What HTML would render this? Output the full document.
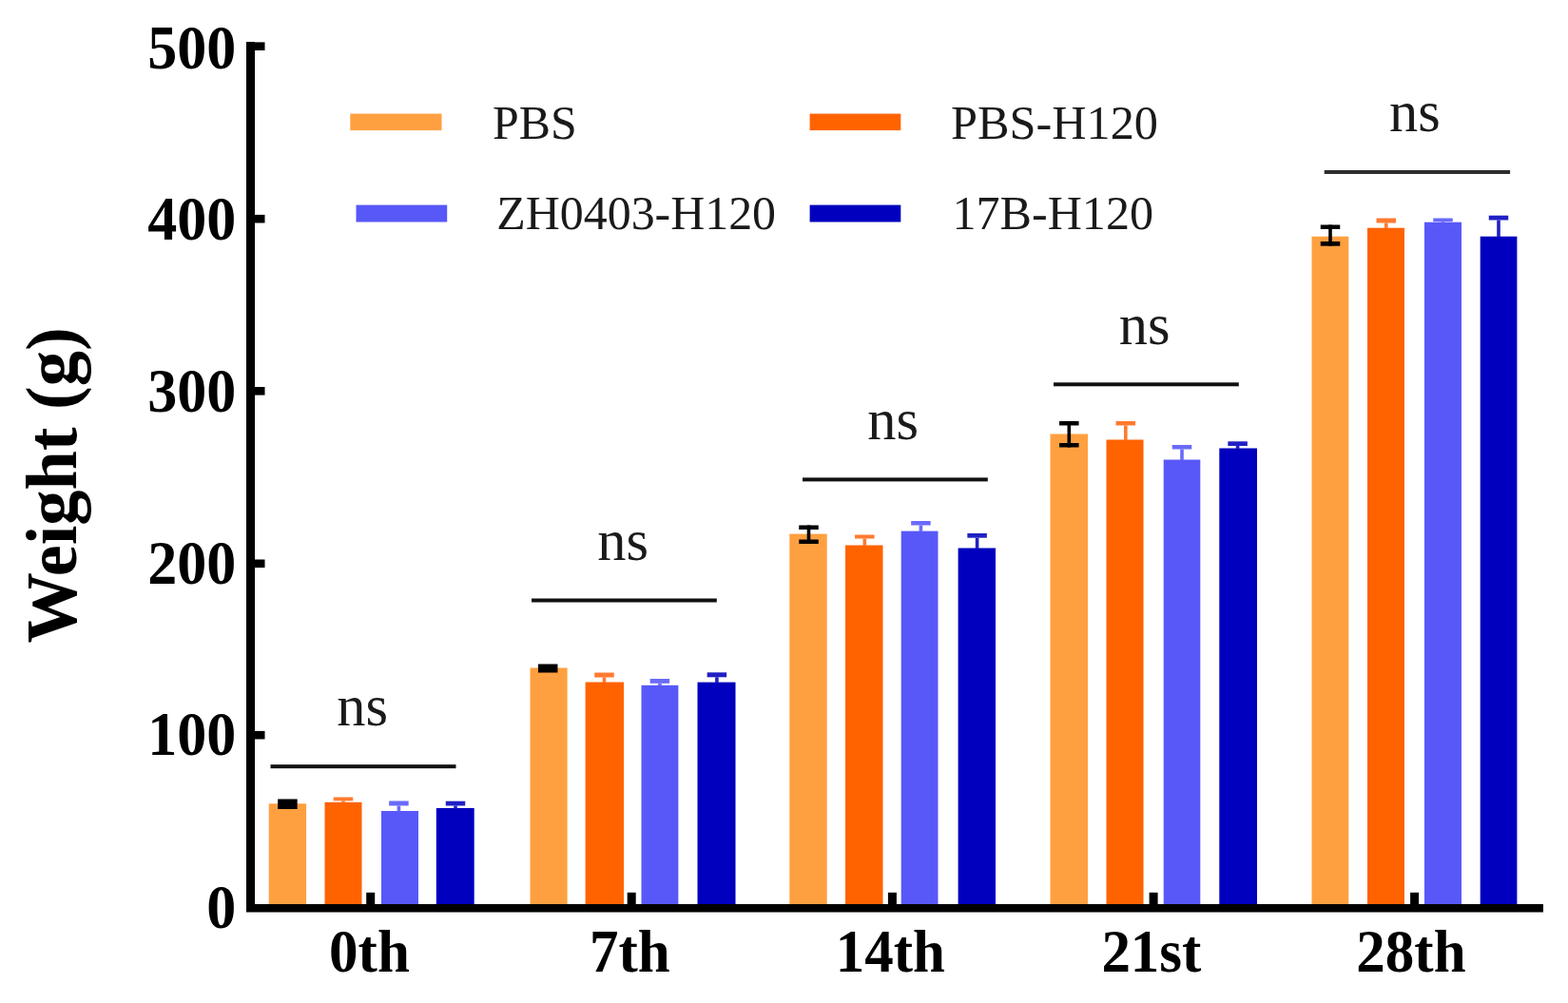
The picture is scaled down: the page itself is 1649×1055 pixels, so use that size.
<!DOCTYPE html>
<html><head><meta charset="utf-8"><title>Weight chart</title>
<style>
html,body{margin:0;padding:0;background:#fff;width:1649px;height:1055px;overflow:hidden}
svg{display:block}
.b{font-family:"Liberation Serif","Times New Roman",serif;font-weight:bold;fill:#000}
.r{font-family:"Liberation Serif","Times New Roman",serif;font-weight:normal;fill:#1a1a1a}
</style></head><body>
<svg width="1649" height="1055" viewBox="0 0 1649 1055">
<rect x="0" y="0" width="1649" height="1055" fill="#fff"/>
<rect x="282.7" y="845.3" width="39.4" height="106.7" fill="#FFA040"/>
<rect x="341.5" y="843.8" width="39.0" height="108.2" fill="#FF6300"/>
<rect x="401.0" y="853.0" width="39.0" height="99.0" fill="#5858F9"/>
<rect x="458.8" y="850.0" width="39.9" height="102.0" fill="#0000BE"/>
<rect x="557.5" y="702.5" width="39.1" height="249.5" fill="#FFA040"/>
<rect x="615.6" y="717.5" width="40.4" height="234.5" fill="#FF6300"/>
<rect x="674.5" y="720.8" width="38.9" height="231.2" fill="#5858F9"/>
<rect x="733.5" y="717.6" width="40.0" height="234.4" fill="#0000BE"/>
<rect x="830.3" y="561.6" width="39.4" height="390.4" fill="#FFA040"/>
<rect x="889.0" y="573.5" width="39.5" height="378.5" fill="#FF6300"/>
<rect x="947.7" y="558.6" width="38.8" height="393.4" fill="#5858F9"/>
<rect x="1007.6" y="576.5" width="39.4" height="375.5" fill="#0000BE"/>
<rect x="1104.5" y="456.5" width="39.5" height="495.5" fill="#FFA040"/>
<rect x="1163.5" y="462.5" width="39.0" height="489.5" fill="#FF6300"/>
<rect x="1223.7" y="483.5" width="38.6" height="468.5" fill="#5858F9"/>
<rect x="1282.3" y="471.5" width="39.7" height="480.5" fill="#0000BE"/>
<rect x="1379.5" y="248.7" width="38.8" height="703.3" fill="#FFA040"/>
<rect x="1438.0" y="239.7" width="39.0" height="712.3" fill="#FF6300"/>
<rect x="1498.0" y="233.7" width="39.0" height="718.3" fill="#5858F9"/>
<rect x="1556.7" y="248.7" width="38.7" height="703.3" fill="#0000BE"/>
<rect x="292.15" y="840.5" width="20.5" height="10.5" fill="#000"/>
<rect x="350.75" y="838.5" width="20.5" height="3.8" fill="#FF7A30"/>
<rect x="359.20" y="842.3" width="3.6" height="2.0" fill="#FF7A30"/>
<rect x="409.15" y="842.5" width="20.5" height="5.0" fill="#6A6AFA"/>
<rect x="417.60" y="847.5" width="3.6" height="6.0" fill="#6A6AFA"/>
<rect x="468.75" y="842.7" width="20.5" height="4.8" fill="#2020C4"/>
<rect x="477.20" y="847.5" width="3.6" height="3.0" fill="#2020C4"/>
<rect x="565.95" y="698.5" width="20.5" height="9.0" fill="#000"/>
<rect x="625.25" y="707.5" width="20.5" height="5.0" fill="#FF7A30"/>
<rect x="633.70" y="712.5" width="3.6" height="5.5" fill="#FF7A30"/>
<rect x="683.65" y="714.0" width="20.5" height="4.8" fill="#6A6AFA"/>
<rect x="692.10" y="718.8" width="3.6" height="2.5" fill="#6A6AFA"/>
<rect x="743.65" y="707.3" width="20.5" height="5.0" fill="#2020C4"/>
<rect x="752.10" y="712.3" width="3.6" height="5.8" fill="#2020C4"/>
<rect x="840.25" y="552.5" width="20.5" height="4.5" fill="#000"/>
<rect x="840.25" y="567.5" width="20.5" height="4.5" fill="#000"/>
<rect x="848.70" y="552.5" width="3.6" height="19.5" fill="#000"/>
<rect x="899.05" y="562.5" width="20.5" height="4.0" fill="#FF7A30"/>
<rect x="907.50" y="566.5" width="3.6" height="7.5" fill="#FF7A30"/>
<rect x="958.15" y="548.0" width="20.5" height="4.5" fill="#6A6AFA"/>
<rect x="966.60" y="552.5" width="3.6" height="6.6" fill="#6A6AFA"/>
<rect x="1017.35" y="561.0" width="20.5" height="4.7" fill="#2020C4"/>
<rect x="1025.80" y="565.7" width="3.6" height="11.3" fill="#2020C4"/>
<rect x="1114.05" y="443.0" width="20.5" height="4.5" fill="#000"/>
<rect x="1114.05" y="466.0" width="20.5" height="4.5" fill="#000"/>
<rect x="1122.50" y="443.0" width="3.6" height="27.5" fill="#000"/>
<rect x="1173.55" y="443.0" width="20.5" height="4.5" fill="#FF7A30"/>
<rect x="1182.00" y="447.5" width="3.6" height="15.5" fill="#FF7A30"/>
<rect x="1232.75" y="468.0" width="20.5" height="4.5" fill="#6A6AFA"/>
<rect x="1241.20" y="472.5" width="3.6" height="11.5" fill="#6A6AFA"/>
<rect x="1291.35" y="464.3" width="20.5" height="4.7" fill="#2020C4"/>
<rect x="1299.80" y="469.0" width="3.6" height="3.0" fill="#2020C4"/>
<rect x="1388.75" y="236.5" width="20.5" height="4.5" fill="#000"/>
<rect x="1388.75" y="254.0" width="20.5" height="4.7" fill="#000"/>
<rect x="1397.20" y="236.5" width="3.6" height="22.2" fill="#000"/>
<rect x="1447.55" y="229.5" width="20.5" height="5.0" fill="#FF7A30"/>
<rect x="1456.00" y="234.5" width="3.6" height="5.7" fill="#FF7A30"/>
<rect x="1507.25" y="229.5" width="20.5" height="3.7" fill="#6A6AFA"/>
<rect x="1515.70" y="233.2" width="3.6" height="1.0" fill="#6A6AFA"/>
<rect x="1565.75" y="226.7" width="20.5" height="4.8" fill="#2020C4"/>
<rect x="1574.20" y="231.5" width="3.6" height="17.7" fill="#2020C4"/>
<rect x="259" y="44" width="9" height="915" fill="#000"/>
<rect x="259" y="951" width="1364" height="8.5" fill="#000"/>
<rect x="266" y="44.40" width="12.5" height="8.6" fill="#000"/>
<rect x="266" y="225.90" width="12.5" height="8.6" fill="#000"/>
<rect x="266" y="407.00" width="12.5" height="8.6" fill="#000"/>
<rect x="266" y="588.50" width="12.5" height="8.6" fill="#000"/>
<rect x="266" y="768.90" width="12.5" height="8.6" fill="#000"/>
<rect x="385.20" y="938.8" width="9" height="14" fill="#000"/>
<rect x="659.70" y="938.8" width="9" height="14" fill="#000"/>
<rect x="933.90" y="938.8" width="9" height="14" fill="#000"/>
<rect x="1208.60" y="938.8" width="9" height="14" fill="#000"/>
<rect x="1483.10" y="938.8" width="9" height="14" fill="#000"/>
<text transform="translate(248.2,71.9) scale(1,1.06)" class="b" font-size="62" text-anchor="end">500</text>
<text transform="translate(248.2,252.2) scale(1,1.06)" class="b" font-size="62" text-anchor="end">400</text>
<text transform="translate(248.2,432.7) scale(1,1.06)" class="b" font-size="62" text-anchor="end">300</text>
<text transform="translate(248.2,613.7) scale(1,1.06)" class="b" font-size="62" text-anchor="end">200</text>
<text transform="translate(248.2,794.0) scale(1,1.06)" class="b" font-size="62" text-anchor="end">100</text>
<text transform="translate(248.2,975.8) scale(1,1.06)" class="b" font-size="62" text-anchor="end">0</text>
<text transform="translate(388.45,1022.4) scale(1,1.03)" class="b" font-size="61" text-anchor="middle">0th</text>
<text transform="translate(662.3,1022.4) scale(1,1.03)" class="b" font-size="61" text-anchor="middle">7th</text>
<text transform="translate(936.4,1022.4) scale(1,1.03)" class="b" font-size="61" text-anchor="middle">14th</text>
<text transform="translate(1210.9,1022.4) scale(1,1.03)" class="b" font-size="61" text-anchor="middle">21st</text>
<text transform="translate(1483.95,1022.4) scale(1,1.03)" class="b" font-size="61" text-anchor="middle">28th</text>
<text transform="translate(80,510.4) rotate(-90) scale(1,1.03)" class="b" font-size="74.3" text-anchor="middle">Weight (g)</text>
<rect x="284.5" y="804.20" width="195.00" height="4" fill="#111"/>
<text transform="translate(381.1,763.0) scale(1,1.03)" class="r" font-size="60.5" text-anchor="middle">ns</text>
<rect x="559" y="629.50" width="194.80" height="4" fill="#111"/>
<text transform="translate(655.1,588.6) scale(1,1.03)" class="r" font-size="60.5" text-anchor="middle">ns</text>
<rect x="844" y="502.40" width="194.80" height="4" fill="#111"/>
<text transform="translate(939.1,462.2) scale(1,1.03)" class="r" font-size="60.5" text-anchor="middle">ns</text>
<rect x="1108" y="402.30" width="194.80" height="4" fill="#111"/>
<text transform="translate(1203.75,361.6) scale(1,1.03)" class="r" font-size="60.5" text-anchor="middle">ns</text>
<rect x="1392.7" y="179.00" width="195.40" height="4" fill="#2e2e2e"/>
<text transform="translate(1487.9,138.0) scale(1,1.03)" class="r" font-size="60.5" text-anchor="middle">ns</text>
<rect x="368.3" y="119.6" width="96.2" height="17.5" fill="#FFA040"/>
<rect x="851.6" y="119.6" width="95.7" height="17.5" fill="#FF6300"/>
<rect x="374.5" y="215.6" width="95.7" height="17.9" fill="#5858F9"/>
<rect x="851.6" y="215.6" width="95.7" height="17.9" fill="#0000BE"/>
<text transform="translate(518.0,145.5) scale(1,1.01)" class="r" font-size="49.8">PBS</text>
<text transform="translate(1000.0,145.5) scale(1,1.01)" class="r" font-size="50.3">PBS-H120</text>
<text transform="translate(522.3,240.9) scale(1,1.01)" class="r" font-size="49.9">ZH0403-H120</text>
<text transform="translate(1001.5,240.9) scale(1,1.01)" class="r" font-size="50.1">17B-H120</text>
</svg>
</body></html>
